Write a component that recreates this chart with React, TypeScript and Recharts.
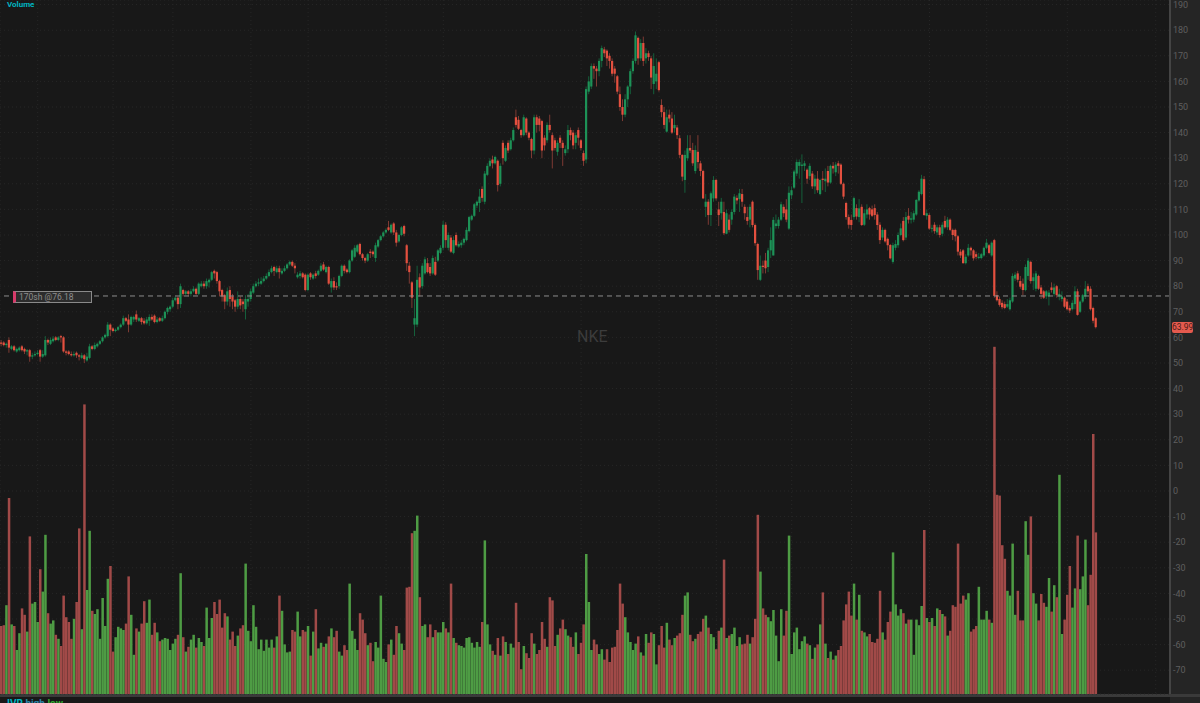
import { Bar, CartesianGrid, ComposedChart, ReferenceLine, XAxis, YAxis } from "recharts"

const opens = [
  58,58,57,59,55.5,56.5,54.5,55,56.5,55.5,
  54.5,55,52.5,53,53.5,55,52.5,53,59,57.5,
  58.5,60,59,60.5,60,54.5,54.5,53.5,53,54,
  53,52,53,51,52,56.5,55.5,56.5,57.5,58.5,
  60,60.5,65,63.5,62.5,63,64,65,67.5,67,
  65,67,69,66.5,67.5,66.5,65.5,66.5,68,68.5,
  66,67.5,66.5,67.5,70,71,72,74.5,75.5,73,
  78.5,77,78,77,78,79,77,80,81,80,
  81.5,82.5,86,85.5,82,78.5,76.5,74,78.5,76,
  74.5,72,75,74,71,74,75,77.5,80,81,
  81,82,83,84,85.5,87.5,85.5,87,85,86,
  87,88.5,89.5,88,83.5,84,85,84.5,78.5,85,
  83,85,84.5,86,88.5,85.5,87.5,79.5,82,80,
  80,84,88,86.5,85.5,90,91.5,93.5,96.5,92.5,
  91,90,93.5,93.5,91,95.5,98,99.5,101,103,
  101,104.5,101,97.5,100,103.5,96,88,81.5,65,
  65,83.5,80,85,89,87.5,85,89.5,90,93,
  95,104,95,99,93,100,95.5,96,97,98,
  101.5,106,107.5,111.5,112.5,118,113,123.5,127,129.5,
  128,129,120,136,129,136,133.5,137,146,145,
  141,139,145.5,140,137.5,133,146,145.5,144.5,138,
  137,143,139,137,132.5,138,136,132,133.5,141,
  140,136,141,137,132,129.5,156,158,166,165,
  164,168,172.5,172,170,168,165,162,155,150,
  147,153,158,164,168,177,169,175,169,171,
  169,159,160,167.5,150.8,148,140.4,147,145.5,141.7,
  142,137.8,131.3,121.5,130,134,133.2,125,132.5,128,
  125,111,113,107.8,114.3,121.5,110,108.5,109,100.5,
  106,106,109,114.5,114,116,111,107,106,113,
  103.9,96.5,82.5,88,90,87.5,94,92,103.5,103.5,
  106,111,110,102.5,115.5,118.5,124,127,127,127,
  125.5,123,124,119,122,116,122,121,125,120.5,
  127,124.5,128,127.5,120,112.5,107,105.9,107,110.5,
  107,111,104,108,110.5,110,110.5,108,104,99,
  102,98.5,96.1,89.5,95,96,100,105.5,99,107.5,
  106,106,108,113.5,116,121.8,107.5,107.8,102.5,104,
  101,103,100.5,105.5,103,106,102,102,99.5,93.5,
  94,89,92,95,94,92.5,91,91,92,95,
  96,92,98,76.5,75,73.5,73,72,71,74,
  83,85,82,81,78.5,84,89.5,82,79,84,
  79.5,78,76,76,79.5,77,80,76,75,75.5,
  74,71.5,71,73,78,70,74,76,80,79,
  71.5,67.5,
]

const closes = [
  57.5,57,57.5,56,56.5,55,55.5,56,55,54.5,
  55,52.5,53,53.5,54,52.5,53.5,59,58,59,
  59.5,59,60,60,54.5,54,53.5,53,53.5,53,
  52.5,53,51.5,52.5,56.5,55.5,57,57.5,58.5,60,
  61,65,63,62.5,63,64,65,67.5,66.5,65,
  68,68,67,67.5,66,65.5,67,68,67,66,
  67,66.5,67.5,70,71.5,72,74.5,75.5,73,80,
  77,78,77,78,79,77,81,81,80,82,
  82.5,85.5,85,82,78,76,74,78,75,74,
  72,75,72.5,73,75,75,78,80,81,81.5,
  82,83,84,85.5,87,86,87,85.5,86,87,
  88.5,89.5,88,87,84.5,85,83.5,78.5,84.5,83.5,
  84.5,84,86,88,86.5,87.5,81,82,79.5,79.5,
  84,88,86,85.5,90,94,95,96,92.5,91,
  90,92.5,93,92.5,96,98,99.5,101,102,102,
  104,101,97,100,103,100.5,89,85.5,75.5,67.5,
  82.5,79.5,88,90.5,85.5,85,91,84.5,94,95,
  104,98,100,93.5,98,96,96.5,97,98.5,102,
  107,107.5,112,113,115,114.5,124,127,129,128,
  130.5,119.5,127,130,134,133,137,141,143,141.5,
  139,146,140,138,133,146,143,143,133,135,
  143,141,133,134,136,136,134,133.5,141,139,
  135,139,138,134,129,157,160,166,165,164,
  168,173,171,169,168,163,163,156,150,147,
  153,158,164,168,178,169,175,168,171,169.5,
  161.5,166,163,156.6,148,143,146,145.5,140,143,
  139,131.3,122.8,131.3,133.9,133,128,133.2,128.5,125,
  114.3,113,107.8,116.3,121.5,114.3,107.8,113,100.7,108.5,
  102,109,115,113.5,116.3,113,108.5,105.5,111,103.9,
  96.8,86.3,88,87.5,87,94,98,105.9,104.5,106,
  112,108.5,106,116.5,117.5,124.8,128.5,128.5,127.5,128,
  122,127,119,122,117.5,121.5,121.5,122,120.5,127,
  126,127.5,127,120,115,107,104,103.9,114.4,107.2,
  110.4,103.9,108.5,110,108,107.5,107.8,103.9,98,102,
  97.5,96,90.9,96,96.5,100,102.6,98,107,106,
  106.5,108.5,113.7,116.9,122,107.8,108.5,102.5,102.8,101.5,
  103,100,104,103,106,102,100,99.5,93.5,92,
  89,91.5,95,94,90.9,91.5,91.5,92.5,95,97,
  93,97,76.2,74.5,72.7,71.8,71.5,73,74.5,84,
  84.5,82.5,79.8,78.5,87.5,90,82,83.5,85,79,
  77,75.5,78,77.5,78.5,79.5,76.5,77,76,72,
  71,70.5,73.5,78,68.8,74,76.5,79,78,71,
  66.5,64,
]

const highs = [
  59,58.5,58,60,57,57,56,56.5,57,56,
  55.5,55.5,54,54.5,55,55.5,55,60.5,59.5,60,
  60.5,60.5,60.5,61,60.5,55,55,54.5,54.5,54.5,
  53.5,54,53.5,54,57.5,57,58,58,59,60.5,
  61.5,66,65.5,64,63.5,64.5,65.5,68.5,68,69,
  68.5,68.5,70.5,68,68,67.5,68,69,69,69,
  68,68,68.5,70.5,72,72.5,75.5,76,76,81,
  79,78.5,78.5,79,80,79.5,81.5,82,82,83,
  83,86,86.5,86,82.5,79,77,79.5,80,77,
  75,78,76,75,76.5,77,79,81,82,83,
  83.5,84,85,86.5,88,88,88,88,87,88,
  89,90,90,89,85.5,86,85.5,85,85,85.5,
  85,86,86.5,89,89.5,88,88,83,83.5,81.5,
  84.5,88.5,88.5,87,90.5,94.5,96,96.5,97,93,
  91.5,93,94.5,94,97,98.5,100,101.5,102.5,105.5,
  104.5,105,102,100.5,103.5,104,96.5,89.5,82,75,
  88,85,89,91.5,91,89,92,91.5,94.5,96,
  105.5,105,101,100,99.5,101,97.5,98,99,103,
  107.5,108,112.5,113.5,118,119,125,128,130,131,
  131,129.5,128,137,135,137,138,142,149,146.5,
  141.5,147,146,140.5,138,147,147,146.5,145,139,
  144,147,140,138,137,139,137,135,143,142,
  141,140,142,137.5,133,158,162,167,167,166,
  169,174,173.5,172.5,171,169,166,162.5,158,153,
  155,158.5,165,169,179.5,177.5,176.5,177.5,173,172,
  170,171,169,168,153,150,149,149,148,147,
  143,139,131.5,133,139,139,136,135,139,129,
  125.5,116,114,117,123,122,113,114.5,113,110,
  108,110,116,115.5,118,118,112,111,112,113.5,
  104.5,97,92,90,93,95,103,107,108,107,
  113,112,114,119,119,125.5,129.5,129.5,131.5,129,
  126,128,125,123.5,125,122,125,126,127,127.5,
  128.5,128.5,129,128,120.5,113,108,108,115,112,
  114,112,110,112,111,111.5,112,109,105,103,
  102.5,99,96.5,97,98,101,104.5,107,109,110.5,
  109,109.5,114,117.5,123.5,123,110,108.5,104,105,
  104,104,105,107.5,107,106.5,102.5,102.5,100,94.5,
  94.5,92.5,96.5,95.5,94.5,93.5,93,93,95.5,98.5,
  96.5,97.5,98.5,78,76,74.5,74,75,75.5,85,
  85.5,86,84,83,88.5,91,90,85,86,84.5,
  80.5,78.5,78.5,78.5,81.5,81,80.5,79,78,76,
  75,72.5,74.5,80,79,74.5,77,82,81,80,
  72,68,
]

const lows = [
  56.5,56.5,56,54,55,54.5,54,54.5,54.5,53.5,
  53,50.5,51.5,52.5,53,50.5,52,52.5,57,57,
  58,58.5,58.5,58,54,53,53,52.5,52.5,52,
  51,51.5,50,50.5,51.5,55,55,56,57,58,
  59.5,60,60.5,62,62,62.5,63.5,64.5,66,62,
  64.5,66,66,66,65,65,65,64.5,66.5,65.5,
  65.5,66,66,67,69,70,71.5,74,71,71.5,
  76,76.5,76,76,77.5,76.5,76.5,79.5,79,79,
  79.5,82,83,81,76,74,71,72.5,72,71,
  70,71,71,70,67,72,74,77,79.5,80,
  80.5,81.5,82.5,83.5,85,84,85,83,84.5,85.5,
  86.5,88,87.5,85,83,83,83,78,78,82.5,
  82.5,83,84,85.5,86,85,80.5,77.5,78.5,78.5,
  79,83.5,85,85,85,89.5,91,93,92,90,
  89,89.5,91,91.5,89.5,95,97.5,99,100.5,101.5,
  100.5,100,95.5,97,99.5,99.5,86,81,71.5,60.5,
  64,76,79,84.5,85,84,84.5,84,89.5,92.5,
  94,95,94,93,92.5,95.5,95,95,96,97.5,
  101,105.5,107,110.5,109,113,112,123,126.5,126,
  127.5,117,119,127.5,128.5,132,133,136.5,142,141,
  138,138.5,139,137,130,131.5,140,140.5,130,133,
  136,140,126,133,131,134,127,131,132,137,
  133.5,133.5,135,133,127,128,155,157,161,158,
  162,165.5,169.5,166,165,162,159.5,155,148.5,144.5,
  146,150,155,163,167,166.5,168,166,167,168,
  157,155,157,156,146,141.5,140,144,139.5,140,
  137.5,130,121,116.5,129,132,127,124,126,123,
  114,107,104,103.5,113,113.5,103.5,106,100,100.3,
  101,104,108,112,109,111,106,104,103,103,
  95.8,82.5,82,85,85,85.5,91,92,102.5,102.5,
  105.5,107,105,102,114,118,123,122,112.5,125,
  120,121.5,118,116,116.5,115.5,117.5,116.8,119,120,
  124,123,124,119.5,114,106,102.5,102,106,106,
  105,103.5,103.5,106.5,106,107,106,102,96.5,98,
  97,94,90.5,88.8,94,95,99.5,97.5,98,104.5,
  104.5,105,107.5,113,115.5,107.5,106,102,101,100.5,
  100,99,99.5,102.5,102,101.5,98,97.5,92,91,
  88.8,88.5,91.5,92,90,90.5,90.5,90.5,91.5,94.5,
  92.5,91.5,75.5,74,72,71,71,71.5,70.5,73.5,
  82,81.5,79,76.5,78,82.5,81,78.5,78,78.5,
  75,75,75,72.5,77.5,76,75.5,74.5,74,71.5,
  70.5,69.5,70.5,71,68.5,69.5,73.5,75,77,70.5,
  65.5,63.5,
]

// millions of shares
const volumes = [
  8.5,8.6,11.1,24.5,8.7,8.5,5.5,7.6,10.7,9.9,
  7.8,19.7,11.3,11.5,9,15.6,12.8,19.9,10.1,8.8,
  9.2,7.4,6.9,6,12.3,9.6,9,6.9,9.4,11.5,
  20.7,8.1,36.2,13,20.4,10.4,10,10.6,6.9,12,
  8.5,14.4,16,5.3,7.1,8.4,8.2,8,8.8,14.7,
  9.9,4.9,8.2,7.8,8.8,11.6,8.9,11.8,7.4,8.9,
  7.7,6.6,6.8,7,6.9,5.5,6.3,6.9,7.4,15.1,
  7.1,5.3,5.9,6.8,7.4,5.8,7,6.5,6,10.8,
  7,9.5,11.5,10,11.8,8.3,10.1,9.7,6.8,7.8,
  6,7.3,8.2,8.6,16.3,7.9,6.6,11.1,8.4,5.6,
  6.8,5.4,6.8,5.8,6.8,5.8,7.2,12.3,10.4,6.2,
  5.2,5.3,8,7.8,10.3,7.2,8,7.8,8.5,4.8,
  7.8,10.6,5.7,6.4,5.9,6.3,7.2,8.2,7.1,7.9,
  5.3,4.8,6.1,5.5,13.8,7.9,6.9,5.5,10.1,9.3,
  7.6,6.1,6.4,4.1,6.5,5.8,12.3,4.4,4,6.2,
  6.8,4.9,8.5,7.6,6.3,5.5,13.3,13.4,20.1,20.4,
  22.3,12.1,8.5,8.7,7.1,8.7,7.1,8,7.7,7.7,
  9,8.2,7.7,13.8,7,6.4,6.1,6,5.8,7,
  7.1,6.4,5.8,6.5,5.9,9,19.2,8.7,6.2,5.4,
  4.9,7,4.8,7.2,6.5,5,6.3,5.8,11.4,6.5,
  3.1,6,5.1,4.5,7.6,6.3,5,5.5,9,6.9,
  5.9,12.1,11.7,6,7.4,8.2,9.3,8.1,7.3,7.1,
  5.9,7.7,5,6.4,8.7,17.5,11.5,5.5,6.8,6.2,
  5,5.6,4.3,5.6,4,5.8,5.9,8,13.8,11.3,
  9.6,7.7,6.5,5.5,6.3,7.2,5.2,4.8,7.5,6.4,
  7.7,7.5,3.7,6.1,8.5,5.8,8.9,6.8,6.1,7,
  7.3,7.6,9.9,12.3,12.7,7.4,6.6,6.9,7.5,7.8,
  9.4,9.8,8.3,7.5,7.1,5.6,7.9,8.3,16.8,7,
  7.3,7.5,8.3,6,7.1,6.2,6.3,7.4,6.3,7.1,
  9.4,22.4,15.3,10.7,9.9,9.6,9.1,10.5,7.3,4.1,
  10.6,7.3,10.4,19.8,5,7.7,8.3,5.6,6.6,7.2,
  6.3,6.1,4.4,5.8,6.2,8.7,12.7,6.3,4.5,5.3,
  4.3,4.8,5.5,6,9.2,11.2,12.8,9.8,13.8,9.3,
  12.4,7.9,7.7,7.2,7.5,6.5,6.4,6.9,12.9,7.7,
  6.8,9,10.3,17.7,11.2,9.8,10.6,10.1,8.8,9.3,
  9.3,4.9,9.3,8.6,11,20.5,9.5,9,9.5,8.5,
  10.7,10.5,10,9.7,7.3,7.9,11.1,10.9,18.8,11.3,
  12.3,11.8,12.6,7.8,8.1,8.5,13.4,9.3,9.3,10.4,
  9.3,8.9,43.4,24.9,24.8,18.6,16.9,12.9,12.3,18.8,
  9.9,12.9,9.2,9.2,21.6,17.4,22.2,12.6,11.3,9.2,
  12.5,11.4,10.9,14.5,10.3,13.6,12.1,27.4,7.5,9.3,
  12.4,16,10.8,13.2,19.8,13.1,14.7,19.3,11.1,14.9,
  32.5,20.2,
]

const priceTicks = [190,180,170,160,150,140,130,120,110,100,90,80,70,60,50,40,30,20,10,0,-10,-20,-30,-40,-50,-60,-70]
const gridBars = [14,43,66,96,118,148,170,223,253,275,304,327,357,379,410,444]
const emptyBars = 28

const rows = Array.from({ length: opens.length + emptyBars }, (_, i) => {
  if (i >= opens.length) return { bar: i }
  return {
    bar: i,
    open: opens[i],
    close: closes[i],
    range: [lows[i], highs[i]],
    volume: volumes[i],
  }
})

function Candle(props: any) {
  const { x, y, width, height, payload } = props
  if (payload.open === undefined || !height) return null
  const [low, high] = payload.range
  const perUnit = height / (high - low)
  const up = payload.close >= payload.open
  const bodyTop = y + (high - Math.max(payload.open, payload.close)) * perUnit
  const bodyHeight = Math.max(Math.abs(payload.close - payload.open) * perUnit, 1)
  return (
    <g>
      <rect x={x + width / 2 - 0.5} y={y} width={1} height={height} fill={up ? "#155f3b" : "#7d3a33"} />
      <rect x={x} y={bodyTop} width={width} height={bodyHeight} fill={up ? "#1d9257" : "#e4503f"} />
    </g>
  )
}

function VolumeBar(props: any) {
  const { x, y, width, height, payload } = props
  if (payload.open === undefined) return null
  const up = payload.close >= payload.open
  return <rect x={x} y={y} width={width} height={height} fill={up ? "#4e9c44" : "#a14a48"} />
}

export default function App() {
  return (
    <div
      style={{
        position: "fixed",
        left: 0,
        top: 0,
        width: 1200,
        height: 703,
        overflow: "hidden",
        background: "#181818",
        fontFamily: "Roboto, sans-serif",
      }}
    >
      <div style={{ position: "absolute", left: 1170, top: 0, width: 30, height: 703, background: "#252525" }} />
      <div style={{ position: "absolute", left: 0, top: 694, width: 1200, height: 3, background: "#3a3a3a" }} />
      <div style={{ position: "absolute", left: 577, top: 327, color: "#3c3c3c", fontSize: 16, lineHeight: "20px", whiteSpace: "nowrap" }}>
        NKE
      </div>
      <div style={{ position: "absolute", left: 0, top: 0 }}>
        <ComposedChart
          width={1200}
          height={703}
          data={rows}
          margin={{ top: 0, right: 0, bottom: 9, left: 0 }}
          barGap={0}
        >
          <XAxis xAxisId="price" dataKey="bar" hide ticks={gridBars} interval={0} />
          <XAxis xAxisId="volume" dataKey="bar" hide />
          <YAxis
            yAxisId="price"
            orientation="right"
            width={30}
            domain={[-79.3, 191.8]}
            ticks={priceTicks}
            interval={0}
            axisLine={{ stroke: "#444444", strokeWidth: 2 }}
            tickLine={false}
            tickSize={1}
            tick={{ fill: "#5f5f5f", fontSize: 9 }}
          />
          <YAxis yAxisId="volume" hide domain={[0, 86.75]} />
          <CartesianGrid xAxisId="price" yAxisId="price" stroke="#272727" strokeDasharray="1 3" />
          <Bar
            xAxisId="volume"
            yAxisId="volume"
            dataKey="volume"
            barSize={2.5}
            shape={VolumeBar}
            isAnimationActive={false}
          />
          <Bar
            xAxisId="price"
            yAxisId="price"
            dataKey="range"
            barSize={2.2}
            shape={Candle}
            isAnimationActive={false}
          />
          <ReferenceLine xAxisId="price" yAxisId="price" y={76.18} stroke="#8c8c8c" strokeDasharray="5 4" />
        </ComposedChart>
      </div>
      <div style={{ position: "absolute", left: 7, top: 0, color: "#00b4c0", fontSize: 8, fontWeight: 700, lineHeight: "9px" }}>
        Volume
      </div>
      <div
        style={{
          position: "absolute",
          left: 13,
          top: 291,
          width: 72,
          height: 10,
          paddingLeft: 3,
          border: "1px solid #8a8a8a",
          borderLeft: "3px solid #d63a6a",
          background: "#2c2c2c",
          color: "#8e8e8e",
          fontSize: 8.5,
          lineHeight: "10px",
          whiteSpace: "nowrap",
        }}
      >
        170sh @76.18
      </div>
      <div
        style={{
          position: "absolute",
          left: 1172,
          top: 322,
          width: 21,
          height: 11,
          borderRadius: 2,
          background: "#e55a4e",
          color: "#4a1c18",
          fontSize: 8.5,
          lineHeight: "11px",
          textAlign: "center",
        }}
      >
        63.99
      </div>
      <div style={{ position: "absolute", left: 7, top: 698, fontSize: 10, lineHeight: "11px", fontWeight: 700, whiteSpace: "nowrap" }}>
        <span style={{ color: "#00b4c0" }}>IVR</span>{" "}
        <span style={{ color: "#2a86a8" }}>high</span>{" "}
        <span style={{ color: "#2fae2f" }}>low</span>
      </div>
    </div>
  )
}
